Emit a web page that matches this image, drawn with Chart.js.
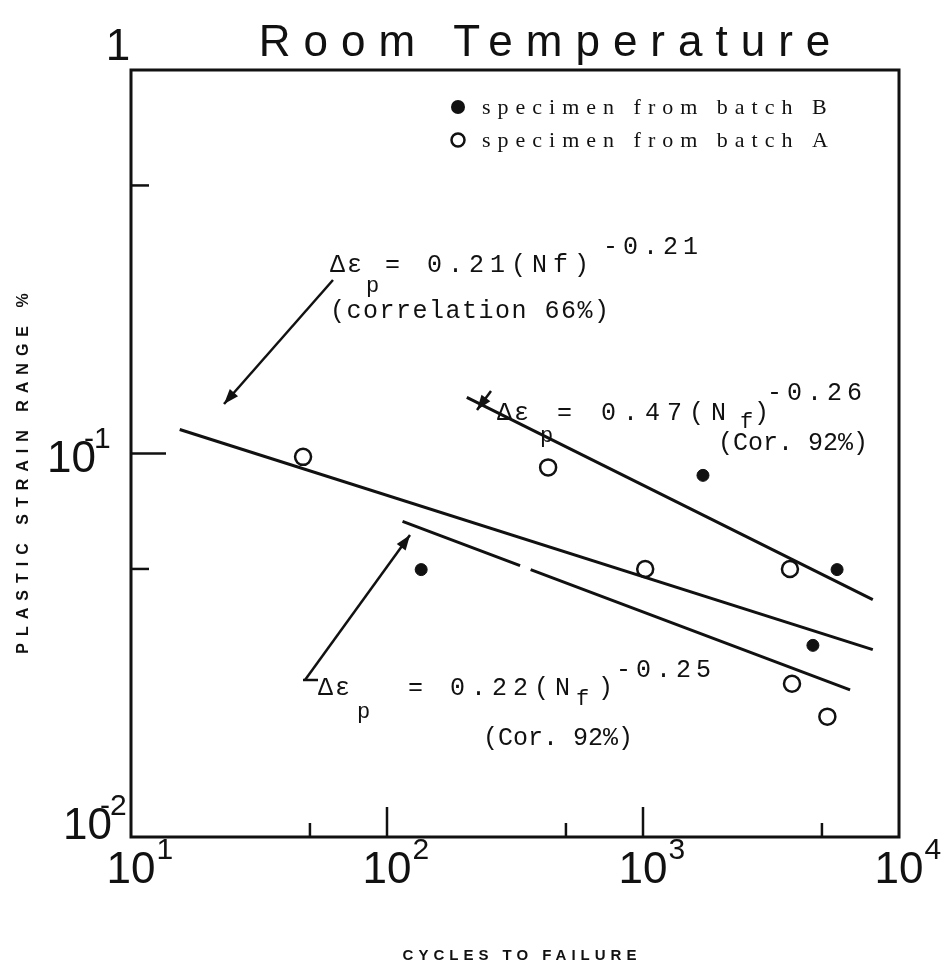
<!DOCTYPE html>
<html>
<head>
<meta charset="utf-8">
<script src="https://cdn.jsdelivr.net/npm/chart.js@4.4.1/dist/chart.umd.min.js"></script>
<style>
  html, body { margin: 0; padding: 0; background: #fff; }
</style>
</head>
<body>
<canvas id="myChart" width="949" height="978"></canvas>
<script>
// datos (ciclos a falla vs rango de deformacion plastica %)
const batchACycles = [47, 426, 1020, 3750, 3820, 5250];
const batchAStrain = [0.098, 0.092, 0.050, 0.050, 0.0251, 0.0206];
const batchBCycles = [136, 1715, 5730, 4610];
const batchBStrain = [0.0498, 0.0877, 0.0498, 0.0316];

// rectas de ajuste (extremos; la inferior tiene un corte)
const fitAllCycles = [15.5, 7900];
const fitAllStrain = [0.1155, 0.0308];
const fitUpperCycles = [205, 7900];
const fitUpperStrain = [0.140, 0.0416];
const fitLowerCycles = [115, 331, 345, 364, 6440];
const fitLowerStrain = [0.0665, 0.051, null, 0.0498, 0.0242];

// marcas de los ejes
const xMajorTicks = [100, 1000];
const xMinorTicks = [50, 500, 5000];
const yMajorTicks = [0.1];
const yMinorTicks = [0.05, 0.5];
const xTickLabels = [[10, "1"], [100, "2"], [1000, "3"], [10000, "4"]];
const yTickLabels = [[1, ""], [0.1, "-1"], [0.01, "-2"]];

const toPoints = (xs, ys) => xs.map((v, i) => ({ x: v, y: ys[i] }));

const INK = "#111";

function spaced(ctx, txt, x, y, font, spacing, align) {
  ctx.font = font;
  ctx.letterSpacing = spacing + "px";
  ctx.textAlign = align || "left";
  ctx.fillText(txt, x, y);
  ctx.letterSpacing = "0px";
}

const extras = {
  id: "extras",
  afterDraw(chart) {
    const { ctx, chartArea: a, scales: { x, y } } = chart;
    ctx.save();
    ctx.strokeStyle = INK;
    ctx.fillStyle = INK;
    ctx.textBaseline = "alphabetic";

    // marco
    ctx.lineWidth = 3;
    ctx.strokeRect(a.left, a.top, a.right - a.left, a.bottom - a.top);

    // marcas hacia adentro
    ctx.lineWidth = 2.5;
    xMajorTicks.forEach(v => {
      const px = x.getPixelForValue(v);
      ctx.beginPath(); ctx.moveTo(px, a.bottom); ctx.lineTo(px, a.bottom - 30); ctx.stroke();
    });
    xMinorTicks.forEach(v => {
      const px = x.getPixelForValue(v);
      ctx.beginPath(); ctx.moveTo(px, a.bottom); ctx.lineTo(px, a.bottom - 14); ctx.stroke();
    });
    yMajorTicks.forEach(v => {
      const py = y.getPixelForValue(v);
      ctx.beginPath(); ctx.moveTo(a.left, py); ctx.lineTo(a.left + 35, py); ctx.stroke();
    });
    yMinorTicks.forEach(v => {
      const py = y.getPixelForValue(v);
      ctx.beginPath(); ctx.moveTo(a.left, py); ctx.lineTo(a.left + 18, py); ctx.stroke();
    });

    // etiquetas del eje x
    xTickLabels.forEach(([v, e]) => {
      const px = x.getPixelForValue(v);
      ctx.font = "44px 'Liberation Sans'";
      ctx.textAlign = "center";
      ctx.fillText("10", px, a.bottom + 46);
      const w = ctx.measureText("10").width;
      ctx.font = "30px 'Liberation Sans'";
      ctx.textAlign = "left";
      ctx.fillText(e, px + w / 2 + 1, a.bottom + 22);
    });

    // etiquetas del eje y
    yTickLabels.forEach(([v, e]) => {
      const py = y.getPixelForValue(v);
      ctx.font = "44px 'Liberation Sans'";
      if (e === "") {
        ctx.textAlign = "center";
        ctx.fillText("1", 118, py - 10);
        return;
      }
      const right = v === 0.1 ? 96 : 112;
      const base = v === 0.1 ? py + 18 : py + 2;
      ctx.textAlign = "right";
      ctx.fillText("10", right, base);
      ctx.font = "30px 'Liberation Sans'";
      ctx.textAlign = "left";
      ctx.fillText(e, right - 12, base - 24);
    });

    // titulos
    spaced(ctx, "Room Temperature", 551, 56, "44px 'Liberation Sans'", 13, "center");
    spaced(ctx, "CYCLES TO FAILURE", 522, 960, "bold 15px 'Liberation Sans'", 5, "center");
    ctx.save();
    ctx.translate(28, 470);
    ctx.rotate(-Math.PI / 2);
    spaced(ctx, "PLASTIC STRAIN RANGE %", 0, 0, "bold 16px 'Liberation Sans'", 7, "center");
    ctx.restore();

    // leyenda
    ctx.beginPath(); ctx.arc(458, 107, 7, 0, Math.PI * 2); ctx.fill();
    ctx.lineWidth = 2.5;
    ctx.beginPath(); ctx.arc(458, 140, 6.5, 0, Math.PI * 2); ctx.stroke();
    spaced(ctx, "specimen from batch B", 482, 114, "22px 'Liberation Serif'", 7);
    spaced(ctx, "specimen from batch A", 482, 147, "22px 'Liberation Serif'", 7);

    // ecuaciones
    const mono = "25px 'Liberation Mono'";
    const monoS = "22px 'Liberation Mono'";
    spaced(ctx, "\u0394\u03b5", 330, 272, mono, 2);
    spaced(ctx, "p", 366, 292, monoS, 0);
    spaced(ctx, "= 0.21(Nf)", 385, 272, mono, 6);
    spaced(ctx, "-0.21", 603, 254, mono, 5);
    spaced(ctx, "(correlation 66%)", 330, 318, mono, 1.5);

    spaced(ctx, "\u0394\u03b5", 497, 420, mono, 2);
    spaced(ctx, "p", 540, 442, monoS, 0);
    spaced(ctx, "= 0.47(N", 557, 420, mono, 7);
    spaced(ctx, "f", 740, 428, monoS, 0);
    spaced(ctx, ")", 754, 420, mono, 0);
    spaced(ctx, "-0.26", 767, 400, mono, 5);
    spaced(ctx, "(Cor. 92%)", 718, 450, mono, 0);

    spaced(ctx, "\u0394\u03b5", 318, 695, mono, 2);
    spaced(ctx, "p", 357, 718, monoS, 0);
    spaced(ctx, "= 0.22(N", 408, 695, mono, 6);
    spaced(ctx, "f", 576, 705, monoS, 0);
    spaced(ctx, ")", 598, 695, mono, 0);
    spaced(ctx, "-0.25", 616, 677, mono, 5);
    spaced(ctx, "(Cor. 92%)", 483, 745, mono, 0);

    // flechas
    const arrow = (x1, y1, x2, y2) => {
      ctx.lineWidth = 2.5;
      ctx.beginPath(); ctx.moveTo(x1, y1); ctx.lineTo(x2, y2); ctx.stroke();
      const ang = Math.atan2(y2 - y1, x2 - x1);
      ctx.beginPath();
      ctx.moveTo(x2, y2);
      ctx.lineTo(x2 - 16 * Math.cos(ang - 0.35), y2 - 16 * Math.sin(ang - 0.35));
      ctx.lineTo(x2 - 16 * Math.cos(ang + 0.35), y2 - 16 * Math.sin(ang + 0.35));
      ctx.closePath(); ctx.fill();
    };
    arrow(333, 280, 224, 404);
    arrow(491, 391, 477, 410);
    arrow(305, 680, 410, 535);
    ctx.beginPath(); ctx.moveTo(303, 680); ctx.lineTo(318, 680); ctx.stroke();

    ctx.restore();
  }
};

const lineStyle = {
  showLine: true,
  spanGaps: false,
  borderColor: INK,
  borderWidth: 3,
  pointRadius: 0,
  fill: false
};

const ctx = document.getElementById("myChart").getContext("2d");
new Chart(ctx, {
  type: "scatter",
  data: {
    datasets: [
      { label: "fit all", data: toPoints(fitAllCycles, fitAllStrain), ...lineStyle },
      { label: "fit upper", data: toPoints(fitUpperCycles, fitUpperStrain), ...lineStyle },
      { label: "fit lower", data: toPoints(fitLowerCycles, fitLowerStrain), ...lineStyle },
      {
        label: "specimen from batch A",
        data: toPoints(batchACycles, batchAStrain),
        pointRadius: 8,
        pointBackgroundColor: "#fff",
        pointBorderColor: INK,
        pointBorderWidth: 2.5
      },
      {
        label: "specimen from batch B",
        data: toPoints(batchBCycles, batchBStrain),
        pointRadius: 6,
        pointBackgroundColor: INK,
        pointBorderColor: INK,
        pointBorderWidth: 1
      }
    ]
  },
  options: {
    responsive: false,
    animation: false,
    layout: { padding: { left: 131, top: 70, right: 50, bottom: 141 } },
    plugins: { legend: { display: false }, tooltip: { enabled: false } },
    scales: {
      x: { type: "logarithmic", min: 10, max: 10000, display: false },
      y: { type: "logarithmic", min: 0.01, max: 1, display: false }
    }
  },
  plugins: [extras]
});
</script>
</body>
</html>
